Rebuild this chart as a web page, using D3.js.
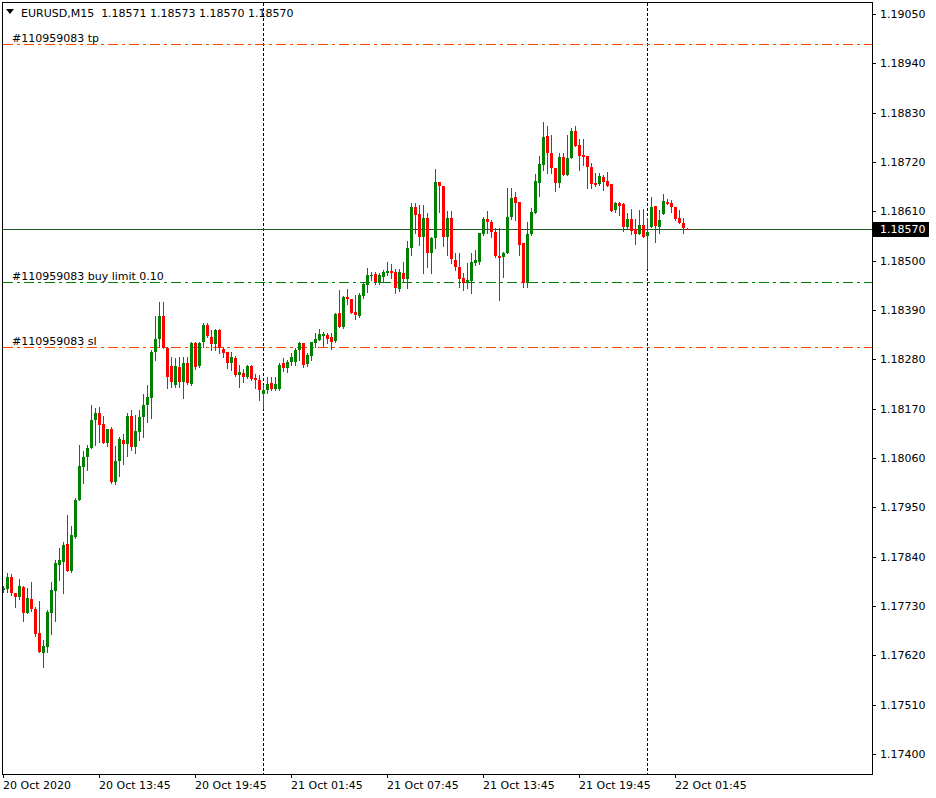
<!DOCTYPE html>
<html>
<head>
<meta charset="utf-8">
<script src="https://cdn.jsdelivr.net/npm/d3@7"></script>
<style>
  body { margin: 0; background: #fff; }
  svg { display: block; font-family: "DejaVu Sans", sans-serif; font-size: 11px; }
</style>
</head>
<body>
<svg id="chart"></svg>
<script>

const symbol = 'EURUSD,M15'
const firstBar = '2020-10-20 07:45'

// 15 minute bars
const opens = [1.17765,1.17768,1.17794,1.17759,1.17750,1.17772,1.17714,1.17745,1.17723,1.17669,
1.17625,1.17638,1.17714,1.17763,1.17821,1.17828,1.17868,1.17808,1.17883,1.17966,
1.18040,1.18062,1.18082,1.18144,1.18160,1.18135,1.18093,1.18124,1.18006,1.18053,
1.18100,1.18091,1.18153,1.18084,1.18118,1.18151,1.18178,1.18193,1.18296,1.18325,
1.18376,1.18305,1.18265,1.18222,1.18263,1.18229,1.18272,1.18225,1.18316,1.18265,
1.18318,1.18356,1.18329,1.18314,1.18345,1.18303,1.18296,1.18272,1.18283,1.18245,
1.18249,1.18240,1.18265,1.18238,1.18234,1.18202,1.18211,1.18227,1.18214,1.18214,
1.18272,1.18260,1.18274,1.18274,1.18300,1.18316,1.18269,1.18287,1.18316,1.18323,
1.18332,1.18334,1.18329,1.18321,1.18383,1.18352,1.18419,1.18414,1.18385,1.18376,
1.18421,1.18445,1.18466,1.18470,1.18450,1.18463,1.18472,1.18477,1.18474,1.18437,
1.18472,1.18459,1.18528,1.18619,1.18604,1.18552,1.18595,1.18517,1.18550,1.18675,
1.18666,1.18552,1.18595,1.18501,1.18486,1.18461,1.18450,1.18454,1.18495,1.18497,
1.18559,1.18593,1.18586,1.18564,1.18510,1.18508,1.18517,1.18597,1.18642,1.18631,
1.18539,1.18450,1.18559,1.18606,1.18673,1.18713,1.18778,1.18740,1.18706,1.18673,
1.18731,1.18691,1.18729,1.18789,1.18758,1.18735,1.18733,1.18709,1.18673,1.18671,
1.18686,1.18677,1.18671,1.18613,1.18628,1.18626,1.18575,1.18593,1.18570,1.18559,
1.18579,1.18555,1.18575,1.18622,1.18575,1.18604,1.18631,1.18628,1.18619,1.18595,
1.18584,1.18571]

const highs = [1.17774,1.17803,1.17801,1.17759,1.17790,1.17774,1.17770,1.17783,1.17727,1.17741,
1.17654,1.17721,1.17783,1.17832,1.17859,1.17872,1.17933,1.17908,1.17970,1.18089,
1.18075,1.18089,1.18178,1.18171,1.18173,1.18153,1.18124,1.18129,1.18086,1.18106,
1.18113,1.18160,1.18167,1.18156,1.18167,1.18202,1.18222,1.18300,1.18376,1.18408,
1.18408,1.18307,1.18285,1.18283,1.18285,1.18285,1.18285,1.18318,1.18318,1.18318,
1.18361,1.18361,1.18345,1.18347,1.18347,1.18307,1.18296,1.18296,1.18287,1.18267,
1.18258,1.18267,1.18267,1.18247,1.18245,1.18222,1.18240,1.18240,1.18240,1.18272,
1.18283,1.18278,1.18294,1.18305,1.18318,1.18316,1.18294,1.18318,1.18338,1.18347,
1.18341,1.18338,1.18338,1.18383,1.18434,1.18421,1.18437,1.18414,1.18423,1.18428,
1.18450,1.18483,1.18474,1.18474,1.18472,1.18479,1.18497,1.18492,1.18481,1.18481,
1.18497,1.18544,1.18628,1.18628,1.18624,1.18624,1.18606,1.18552,1.18704,1.18675,
1.18666,1.18610,1.18610,1.18517,1.18517,1.18472,1.18495,1.18517,1.18524,1.18561,
1.18597,1.18610,1.18590,1.18573,1.18573,1.18519,1.18662,1.18662,1.18653,1.18631,
1.18539,1.18586,1.18617,1.18693,1.18733,1.18809,1.18800,1.18780,1.18706,1.18740,
1.18740,1.18780,1.18796,1.18800,1.18771,1.18771,1.18733,1.18718,1.18695,1.18695,
1.18691,1.18697,1.18671,1.18631,1.18631,1.18628,1.18606,1.18615,1.18593,1.18613,
1.18615,1.18595,1.18642,1.18622,1.18613,1.18648,1.18637,1.18635,1.18619,1.18613,
1.18595,1.18573]

const lows = [1.17761,1.17761,1.17754,1.17727,1.17745,1.17696,1.17714,1.17718,1.17663,1.17627,
1.17594,1.17627,1.17667,1.17696,1.17788,1.17759,1.17808,1.17805,1.17881,1.17966,
1.18004,1.18033,1.18082,1.18089,1.18095,1.18093,1.18086,1.18004,1.18002,1.18020,
1.18046,1.18064,1.18077,1.18071,1.18100,1.18106,1.18140,1.18149,1.18278,1.18307,
1.18305,1.18216,1.18218,1.18218,1.18218,1.18193,1.18225,1.18222,1.18258,1.18263,
1.18307,1.18329,1.18300,1.18300,1.18294,1.18285,1.18260,1.18256,1.18243,1.18218,
1.18229,1.18238,1.18234,1.18216,1.18189,1.18171,1.18205,1.18211,1.18211,1.18211,
1.18254,1.18251,1.18267,1.18267,1.18278,1.18263,1.18265,1.18278,1.18307,1.18323,
1.18309,1.18316,1.18303,1.18318,1.18352,1.18350,1.18403,1.18383,1.18370,1.18374,
1.18416,1.18430,1.18457,1.18448,1.18448,1.18454,1.18468,1.18461,1.18428,1.18432,
1.18452,1.18439,1.18512,1.18561,1.18535,1.18472,1.18486,1.18472,1.18528,1.18608,
1.18532,1.18512,1.18495,1.18479,1.18441,1.18434,1.18439,1.18428,1.18490,1.18492,
1.18557,1.18561,1.18552,1.18508,1.18412,1.18463,1.18517,1.18593,1.18590,1.18512,
1.18441,1.18441,1.18557,1.18606,1.18644,1.18702,1.18695,1.18695,1.18655,1.18664,
1.18691,1.18691,1.18729,1.18755,1.18702,1.18713,1.18662,1.18662,1.18666,1.18668,
1.18657,1.18666,1.18610,1.18608,1.18602,1.18566,1.18573,1.18559,1.18537,1.18559,
1.18552,1.18483,1.18575,1.18541,1.18561,1.18604,1.18626,1.18608,1.18590,1.18584,
1.18561,1.18570]

const closes = [1.17770,1.17794,1.17759,1.17750,1.17774,1.17714,1.17747,1.17723,1.17667,1.17627,
1.17640,1.17716,1.17765,1.17826,1.17832,1.17866,1.17808,1.17888,1.17966,1.18042,
1.18062,1.18082,1.18144,1.18160,1.18133,1.18093,1.18124,1.18006,1.18053,1.18102,
1.18091,1.18153,1.18084,1.18120,1.18151,1.18178,1.18196,1.18296,1.18325,1.18376,
1.18305,1.18240,1.18229,1.18265,1.18229,1.18272,1.18227,1.18316,1.18263,1.18316,
1.18356,1.18332,1.18314,1.18345,1.18305,1.18294,1.18272,1.18285,1.18245,1.18251,
1.18240,1.18265,1.18236,1.18234,1.18211,1.18211,1.18225,1.18214,1.18225,1.18267,
1.18260,1.18274,1.18285,1.18300,1.18316,1.18267,1.18289,1.18318,1.18325,1.18336,
1.18336,1.18325,1.18318,1.18381,1.18352,1.18419,1.18414,1.18383,1.18379,1.18423,
1.18448,1.18468,1.18468,1.18452,1.18468,1.18474,1.18477,1.18472,1.18439,1.18474,
1.18459,1.18528,1.18619,1.18602,1.18552,1.18595,1.18517,1.18550,1.18675,1.18666,
1.18552,1.18595,1.18503,1.18486,1.18459,1.18450,1.18457,1.18497,1.18501,1.18561,
1.18593,1.18586,1.18564,1.18510,1.18506,1.18517,1.18597,1.18639,1.18628,1.18535,
1.18450,1.18559,1.18608,1.18677,1.18715,1.18775,1.18740,1.18706,1.18673,1.18731,
1.18691,1.18729,1.18789,1.18755,1.18733,1.18731,1.18709,1.18671,1.18668,1.18689,
1.18675,1.18666,1.18610,1.18628,1.18622,1.18575,1.18593,1.18566,1.18559,1.18579,
1.18552,1.18564,1.18619,1.18577,1.18590,1.18633,1.18626,1.18619,1.18593,1.18584,
1.18572,1.18570]

const priceTicks = [1.17400,1.17510,1.17620,1.17730,1.17840,1.17950,1.18060,1.18170,
1.18280,1.18390,1.18500,1.18610,1.18720,1.18830,1.18940,1.19050]

const timeTickBars = [0, 24, 48, 72, 96, 120, 144, 168]
const timeTickLabels = ['20 Oct 2020','20 Oct 13:45','20 Oct 19:45','21 Oct 01:45',
'21 Oct 07:45','21 Oct 13:45','21 Oct 19:45','22 Oct 01:45']

const orderNames = ['#110959083 tp', '#110959083 buy limit 0.10', '#110959083 sl']
const orderPrices = [1.18983, 1.18452, 1.18307]
const orderKinds = ['tp', 'limit', 'sl']

const chartW = 936, chartH = 798
const plotL = 2, plotR = 872, plotT = 2, plotB = 774

const svg = d3.select('#chart').attr('width', chartW).attr('height', chartH)

const parseTime = d3.timeParse('%Y-%m-%d %H:%M')
const t0 = parseTime(firstBar)
const bars = opens.map((o, i) => ({
  i: i,
  time: d3.timeMinute.offset(t0, 15 * i),
  open: o, high: highs[i], low: lows[i], close: closes[i]
}))

const xScale = d3.scaleLinear().domain([0, 1]).range([3.5, 7.5])
const yScale = d3.scaleLinear().domain([1.17400, 1.19050]).range([754, 14])

const kindColor = { tp: '#ff4500', sl: '#ff4500', limit: '#008000' }

// frame
svg.append('rect')
  .attr('x', plotL + 0.5).attr('y', plotT + 0.5)
  .attr('width', plotR - plotL).attr('height', plotB - plotT)
  .attr('fill', '#fff').attr('stroke', '#000')

const plot = svg.append('g')

// day separators
const daySeps = bars.filter(b => b.time.getHours() === 0 && b.time.getMinutes() === 0)
plot.selectAll('.sep')
  .data(daySeps)
  .join('line')
  .attr('x1', d => Math.floor(xScale(d.i)) + 0.5)
  .attr('x2', d => Math.floor(xScale(d.i)) + 0.5)
  .attr('y1', plotT + 1).attr('y2', plotB)
  .attr('stroke', '#000')
  .attr('stroke-dasharray', '3,2')

// order lines
orderPrices.forEach((p, k) => {
  let yy = Math.round(yScale(p)) + 0.5
  plot.append('line')
    .attr('x1', plotL + 1).attr('x2', plotR)
    .attr('y1', yy).attr('y2', yy)
    .attr('stroke', kindColor[orderKinds[k]])
    .attr('stroke-dasharray', '10,4,3,4')
  plot.append('text')
    .attr('x', 12).attr('y', yy - 3)
    .attr('fill', '#000')
    .text(orderNames[k])
})

// bid line
const last = bars[bars.length - 1]
const bidY = Math.round(yScale(last.close)) + 0.5
plot.append('line')
  .attr('x1', plotL + 1).attr('x2', plotR)
  .attr('y1', bidY).attr('y2', bidY)
  .attr('stroke', '#1e5a1e')

// candles
const candle = plot.selectAll('.candle')
  .data(bars)
  .join('g')
  .attr('shape-rendering', 'crispEdges')

candle.append('rect')
  .attr('x', d => Math.floor(xScale(d.i)))
  .attr('width', 1)
  .attr('y', d => Math.round(yScale(d.high)))
  .attr('height', d => Math.max(1, Math.round(yScale(d.low)) - Math.round(yScale(d.high)) + 1))
  .attr('fill', d => d.close >= d.open ? '#008000' : '#ff0000')

candle.append('rect')
  .attr('x', d => Math.floor(xScale(d.i)) - 1)
  .attr('width', 3)
  .attr('y', d => Math.round(yScale(Math.max(d.open, d.close))))
  .attr('height', d => Math.max(1, Math.round(yScale(Math.min(d.open, d.close))) - Math.round(yScale(Math.max(d.open, d.close)))))
  .attr('fill', d => d.close >= d.open ? '#008000' : '#ff0000')

// redraw left frame edge over candles
svg.append('line').attr('x1', plotL + 0.5).attr('x2', plotL + 0.5).attr('y1', plotT).attr('y2', plotB + 1).attr('stroke', '#000')

// price axis
const yAxis = svg.append('g')
priceTicks.forEach(p => {
  let yy = Math.round(yScale(p)) + 0.5
  yAxis.append('line')
    .attr('x1', plotR).attr('x2', plotR + 4)
    .attr('y1', yy).attr('y2', yy)
    .attr('stroke', '#000')
  yAxis.append('text')
    .attr('x', 880).attr('y', yy)
    .attr('dy', '0.35em')
    .attr('fill', '#000')
    .text(d3.format('.5f')(p))
})

// bid label
svg.append('rect')
  .attr('x', 873).attr('y', bidY - 7.5)
  .attr('width', 56).attr('height', 15)
  .attr('fill', '#000')
svg.append('text')
  .attr('x', 880).attr('y', bidY)
  .attr('dy', '0.35em')
  .attr('fill', '#fff')
  .text(d3.format('.5f')(last.close))

// time axis
const xAxis = svg.append('g')
timeTickBars.forEach((b, k) => {
  let xx = Math.floor(xScale(b)) + 0.5
  xAxis.append('line')
    .attr('x1', xx).attr('x2', xx)
    .attr('y1', plotB).attr('y2', plotB + 4)
    .attr('stroke', '#000')
  xAxis.append('text')
    .attr('x', xx - 0.5).attr('y', 789)
    .attr('fill', '#000')
    .text(timeTickLabels[k])
})

// header
svg.append('path')
  .attr('d', d3.line()([[6, 9], [14, 9], [10, 14]]) + 'Z')
  .attr('fill', '#000')

svg.append('text')
  .attr('x', 21).attr('y', 17)
  .attr('fill', '#000')
  .style('white-space', 'pre')
  .text(symbol + '  ' + [last.open, last.high, last.low, last.close].map(d3.format('.5f')).join(' '))

</script>
</body>
</html>
